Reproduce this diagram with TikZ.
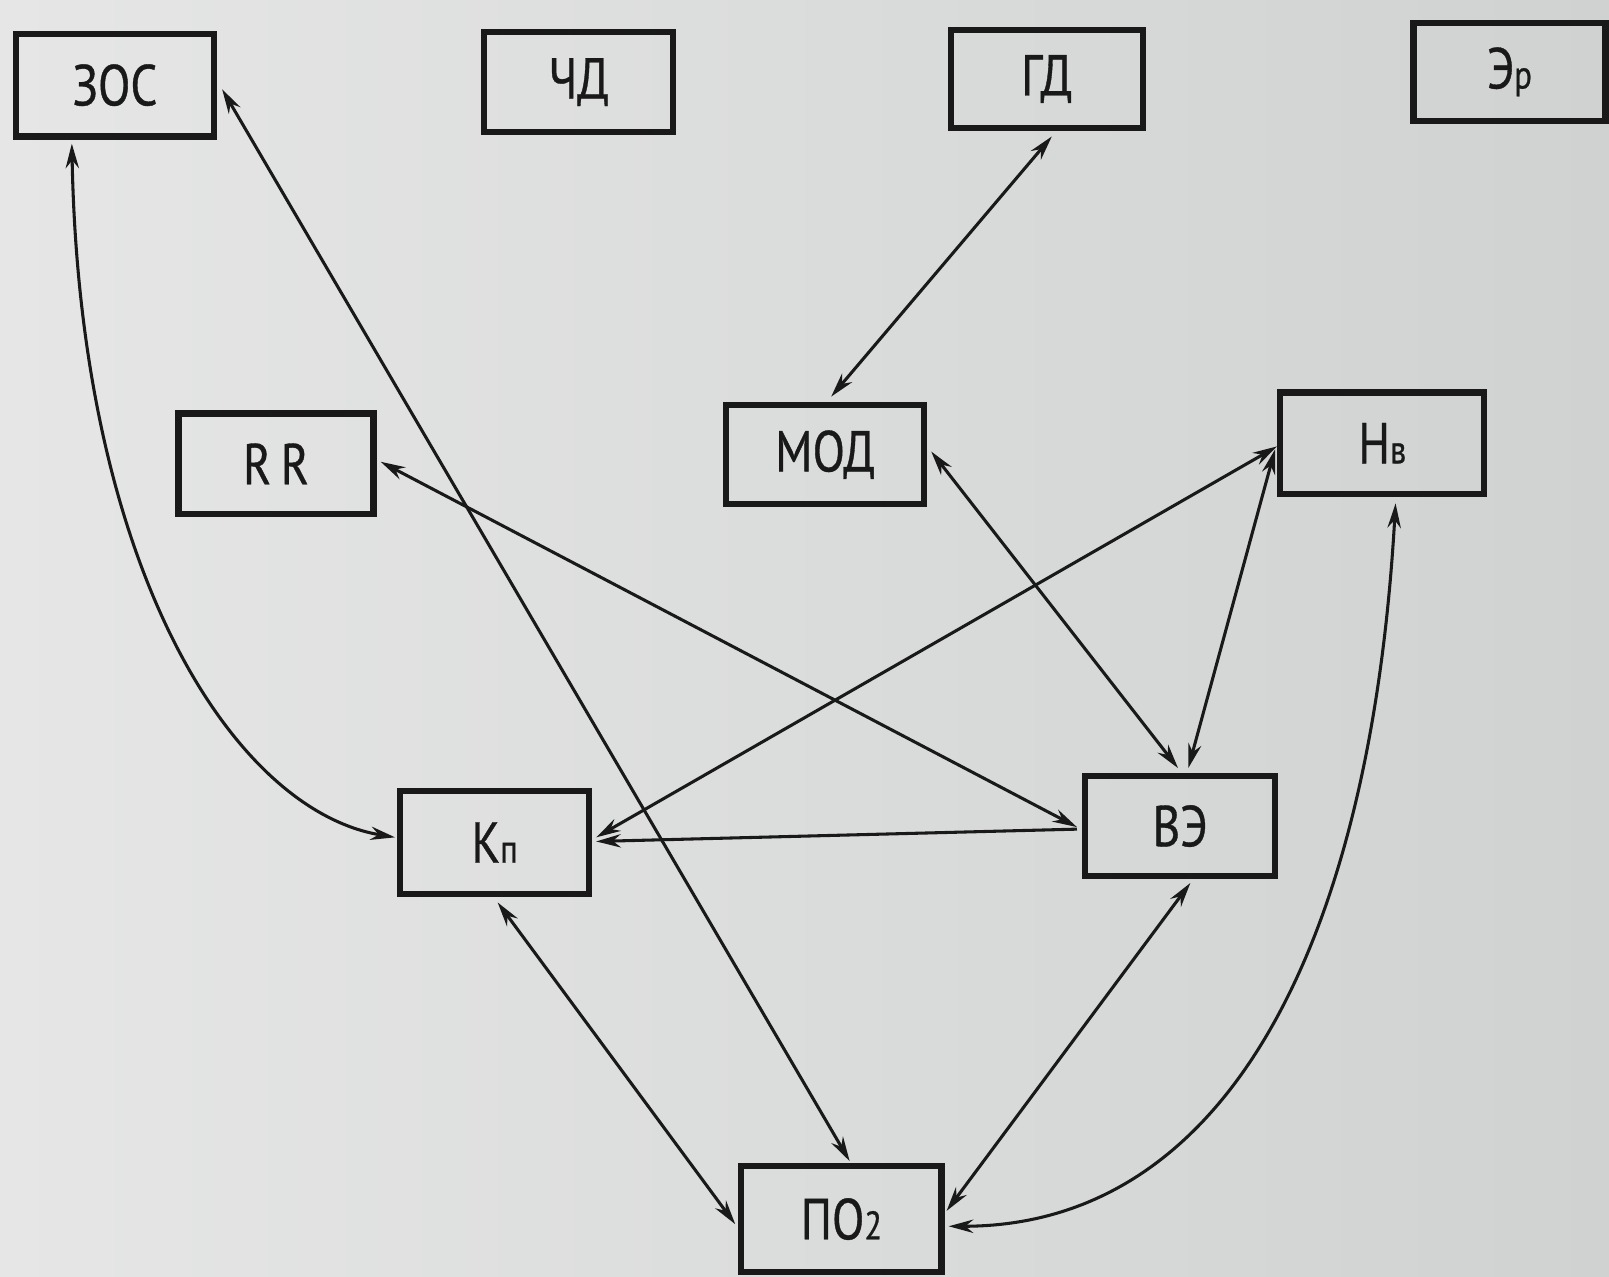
\documentclass[tikz,border=0pt]{standalone}
\usepackage{fontspec}
\setmainfont{PT Sans}[FakeStretch=0.82,FakeBold=0.6]
\usetikzlibrary{arrows.meta,calc}
\definecolor{bgL}{RGB}{229,230,229}
\definecolor{bgR}{RGB}{208,210,210}
\definecolor{ink}{RGB}{25,25,25}
\newcommand{\smch}[1]{{\fontsize{11}{11}\selectfont #1}}
\begin{document}
\begin{tikzpicture}[
  x=1cm,y=1cm,
  box/.style={draw=ink,line width=1.7pt,rectangle,inner sep=0pt,
    font=\fontsize{16}{19}\selectfont,text=ink},
  link/.style={draw=ink,line width=0.85pt,{Stealth[length=2.4mm,width=1.3mm]}-{Stealth[length=2.4mm,width=1.3mm]}},
  onelink/.style={draw=ink,line width=0.85pt,-{Stealth[length=2.4mm,width=1.3mm]}}
]
\shade[left color=bgL,right color=bgR] (0,0) rectangle (15.68,-12.44);
\useasboundingbox (0,0) rectangle (15.68,-12.44);

\node[box,minimum width=1.93cm,minimum height=1.00cm] (zos) at (1.12,-0.83) {ЗОС};
\node[box,minimum width=1.84cm,minimum height=0.97cm] (chd) at (5.64,-0.80) {ЧД};
\node[box,minimum width=1.87cm,minimum height=0.96cm] (gd)  at (10.20,-0.77) {ГД};
\node[box,minimum width=1.87cm,minimum height=0.95cm] (er)  at (14.71,-0.70) {Э\smch{р}};
\node[box,minimum width=1.90cm,minimum height=0.98cm] (rr)  at (2.69,-4.52) {R\,R};
\node[box,minimum width=1.93cm,minimum height=0.97cm] (mod) at (8.04,-4.43) {МОД};
\node[box,minimum width=1.99cm,minimum height=0.99cm] (nv)  at (13.47,-4.32) {Н\smch{в}};
\node[box,minimum width=1.84cm,minimum height=1.01cm] (kp)  at (4.82,-8.21) {К\smch{п}};
\node[box,minimum width=1.85cm,minimum height=0.97cm] (ve)  at (11.50,-8.05) {ВЭ};
\node[box,minimum width=1.95cm,minimum height=1.03cm] (po)  at (8.20,-11.88) {ПО\smch{2}};

% curved ЗОС <-> КП
\draw[link] ([xshift=-0.42cm,yshift=-0.04cm]zos.south)
  .. controls (0.78,-5.6) and (2.30,-7.90) .. ([xshift=-0.02cm,yshift=0.05cm]kp.west);
% ЗОС <-> ПО2
\draw[link] ([xshift=0.05cm,yshift=-0.04cm]zos.east) -- ([xshift=0.08cm,yshift=0.02cm]po.north);
% ГД <-> МОД
\draw[link] ([xshift=0.05cm,yshift=-0.05cm]gd.south) -- ([xshift=0.06cm,yshift=0.05cm]mod.north);
% RR <-> ВЭ
\draw[link] ([xshift=0.04cm,yshift=0.02cm]rr.east) -- ([xshift=-0.05cm,yshift=-0.01cm]ve.west);
% МОД <-> ВЭ
\draw[link] ([xshift=0.04cm,yshift=0.03cm]mod.east) -- ([xshift=-0.02cm,yshift=0.05cm]ve.north);
% Нв <-> КП
\draw[link] ([xshift=0.00cm,yshift=-0.03cm]nv.west) -- ([xshift=0.04cm,yshift=0.05cm]kp.east);
% Нв <-> ВЭ
\draw[link] ([xshift=-0.02cm,yshift=-0.06cm]nv.west) -- ([xshift=0.08cm,yshift=0.05cm]ve.north);
% ВЭ -> КП
\draw[onelink] ([xshift=-0.05cm,yshift=-0.03cm]ve.west) -- ([xshift=0.04cm,yshift=0.01cm]kp.east);
% КП <-> ПО2
\draw[link] ([xshift=0.03cm,yshift=-0.05cm]kp.south) -- ([xshift=-0.03cm,yshift=-0.05cm]po.west);
% ВЭ <-> ПО2
\draw[link] ([xshift=0.10cm,yshift=-0.04cm]ve.south) -- ([xshift=0.02cm,yshift=0.08cm]po.east);
% curved Нв <-> ПО2
\draw[link] ([xshift=0.13cm,yshift=-0.06cm]nv.south)
  .. controls (13.35,-9.3) and (11.9,-11.95) .. ([xshift=0.04cm,yshift=-0.07cm]po.east);
\end{tikzpicture}
\end{document}
